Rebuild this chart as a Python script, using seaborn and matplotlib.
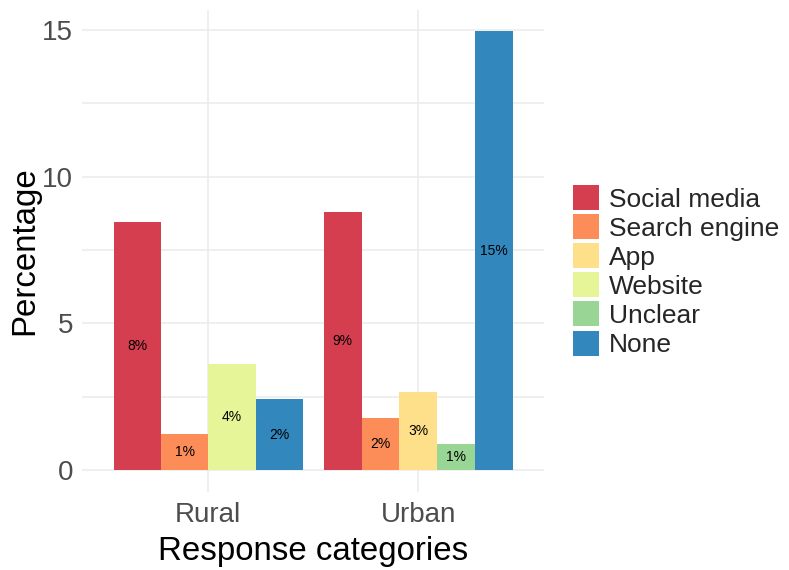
import pandas as pd
import seaborn as sns
from matplotlib import pyplot as plt
from matplotlib.patches import Patch
from matplotlib.ticker import MultipleLocator

# values
locations = ['Rural', 'Urban']
categories = ['Social media', 'Search engine', 'App', 'Website', 'Unclear', 'None']
rural_cats = ['Social media', 'Search engine', 'Website', 'None']
rural_pct = [8.45, 1.22, 3.61, 2.41]
urban_cats = ['Social media', 'Search engine', 'App', 'Unclear', 'None']
urban_pct = [8.80, 1.76, 2.65, 0.88, 14.96]

colors = ['#D53E4F', '#FC8D59', '#FEE08B', '#E6F598', '#99D594', '#3288BD']
palette = dict(zip(categories, colors))

rural = pd.DataFrame({'loc': 'Rural', 'cat': rural_cats, 'pct': rural_pct})
urban = pd.DataFrame({'loc': 'Urban', 'cat': urban_cats, 'pct': urban_pct})

sns.set_theme(style='white')
plt.rcParams['font.family'] = ['Liberation Sans', 'DejaVu Sans']

fig = plt.figure(figsize=(7.89, 5.7), dpi=100)
ax = fig.add_axes([0.1043, 0.137, 0.5856, 0.846])

grid_col = '#EBEBEB'
ax.set_axisbelow(True)

# each location dodges only over the categories it has (like ggplot)
for frame, cats in [(rural, rural_cats), (urban, urban_cats)]:
    sns.barplot(data=frame, x='loc', y='pct', hue='cat', hue_order=cats,
                order=locations, palette=palette, width=0.9, gap=0,
                linewidth=0, saturation=1, errorbar=None, legend=False, ax=ax)

for cont in ax.containers:
    ax.bar_label(cont, fmt='{:.0f}%', label_type='center', fontsize=10, color='black')

ax.set_xlim(-0.6, 1.6)
ax.set_ylim(-0.75, 15.7)
ax.yaxis.set_major_locator(MultipleLocator(5))
ax.yaxis.set_minor_locator(MultipleLocator(2.5))
ax.grid(True, which='major', axis='both', color=grid_col, linewidth=1.1)
ax.grid(True, which='minor', axis='y', color=grid_col, linewidth=1.1)
for s in ax.spines.values():
    s.set_visible(False)

ax.tick_params(axis='both', which='both', length=0, labelsize=20, labelcolor='#4D4D4D')
ax.tick_params(axis='y', pad=6.7)
ax.tick_params(axis='x', pad=7)
ax.set_xlabel('Response categories', fontsize=23.8, color='black', labelpad=5.9)
ax.set_ylabel('Percentage', fontsize=23.8, color='black', labelpad=1.3)

handles = [Patch(facecolor=palette[c], edgecolor='none', label=c) for c in categories]
fig.legend(handles=handles, loc='upper left', bbox_to_anchor=(0.7259, 0.6754),
           frameon=False, fontsize=19, handlelength=1.0, handleheight=1.08,
           labelspacing=0.1, handletextpad=0.37, borderpad=0, borderaxespad=0)

fig.savefig('out.png', dpi=100)
